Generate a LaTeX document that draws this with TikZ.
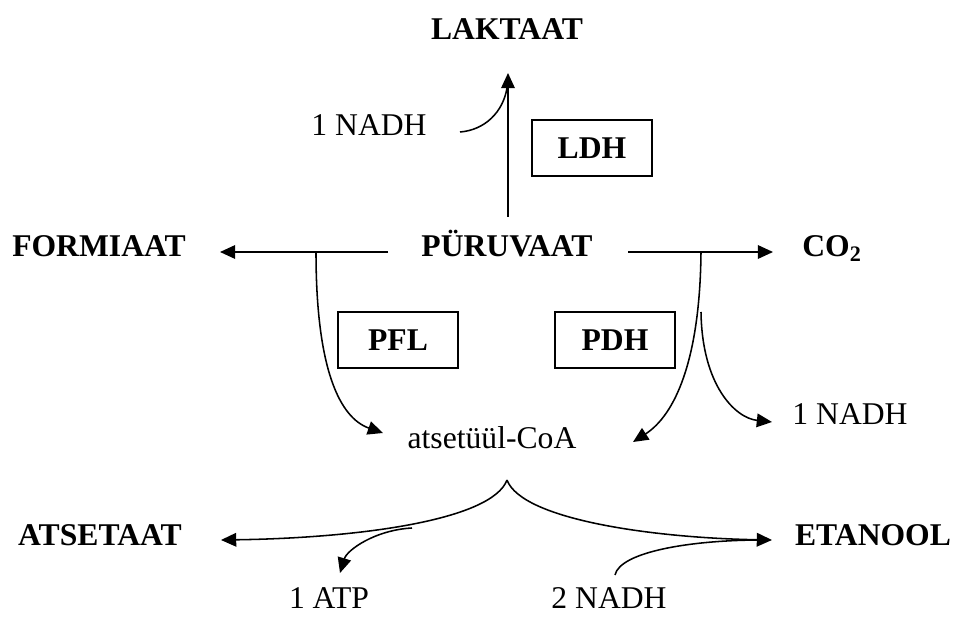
\documentclass[tikz,border=0pt]{standalone}
\usepackage{fontspec}
\setmainfont{Liberation Serif}
\usetikzlibrary{arrows.meta}
\tikzset{arr/.style={-{Triangle[length=0.38cm,width=0.34cm]},line width=1.1pt},
  line/.style={line width=1.1pt},
  enz/.style={draw,line width=1.1pt,minimum width=3cm,minimum height=1.4cm,font=\bfseries},
  met/.style={anchor=base,inner sep=0pt}}
\begin{document}
\fontsize{22.5}{27}\selectfont
\begin{tikzpicture}[x=0.025cm,y=-0.025cm]
\useasboundingbox (0,0) rectangle (962,617);

\node[met,font=\bfseries] (lakt) at (507,40) {LAKTAAT};
\node[met] (nadhA) at (369,136) {1 NADH};
\node[enz] (ldh) at (592,148) {LDH};
\node[met,font=\bfseries] (puru) at (507,257) {PÜRUVAAT};
\node[met,font=\bfseries] (form) at (99,257) {FORMIAAT};
\node[met,font=\bfseries] (co) at (832,257) {CO\textsubscript{2}};
\node[enz] (pfl) at (398,340) {PFL};
\node[enz] (pdh) at (615,340) {PDH};
\node[met] (acoa) at (492,448) {atsetüül-CoA};
\node[met] (nadhB) at (850,424) {1 NADH};
\node[met,font=\bfseries] (atse) at (100,545) {ATSETAAT};
\node[met,font=\bfseries] (etan) at (873,545) {ETANOOL};
\node[met] (atp) at (329,608) {1 ATP};
\node[met] (nadhC) at (609,608) {2 NADH};

\coordinate (purUp) at (508,217);
\coordinate (laktIn) at (508,73);
\coordinate (nadhAOut) at (460,132);
\coordinate (laktJoin) at (507,88);
\coordinate (purL) at (388,252);
\coordinate (formIn) at (220,252);
\coordinate (brL) at (316,252);
\coordinate (purR) at (628,252);
\coordinate (coIn) at (773,252);
\coordinate (brR) at (701,252);
\coordinate (brR2) at (701,312);
\coordinate (acoaInL) at (383,433);
\coordinate (acoaInR) at (633,442);
\coordinate (nadhBIn) at (772,422);
\coordinate (acoaOut) at (507,480);
\coordinate (atseIn) at (221,540);
\coordinate (etanIn) at (772,540);
\coordinate (atpOut) at (412,528);
\coordinate (atpIn) at (340,573);
\coordinate (nadhCOut) at (615,575);
\coordinate (etanJoin) at (762,540);

\draw[arr] (purUp) -- (laktIn);
\draw[line] (nadhAOut) .. controls (485,130) and (503,112) .. (laktJoin);

\draw[arr] (purL) -- (formIn);
\draw[arr] (purR) -- (coIn);
\draw[arr] (brL) .. controls (316,370) and (340,418) .. (acoaInL);
\draw[arr] (brR) .. controls (700,360) and (675,415) .. (acoaInR);
\draw[arr] (brR2) .. controls (702,385) and (735,418) .. (nadhBIn);

\draw[arr] (acoaOut) .. controls (492,520) and (360,538) .. (atseIn);
\draw[arr] (acoaOut) .. controls (522,520) and (655,538) .. (etanIn);
\draw[arr] (atpOut) .. controls (375,530) and (347,550) .. (atpIn);
\draw[line] (nadhCOut) .. controls (620,552) and (690,540) .. (etanJoin);

\end{tikzpicture}
\end{document}
